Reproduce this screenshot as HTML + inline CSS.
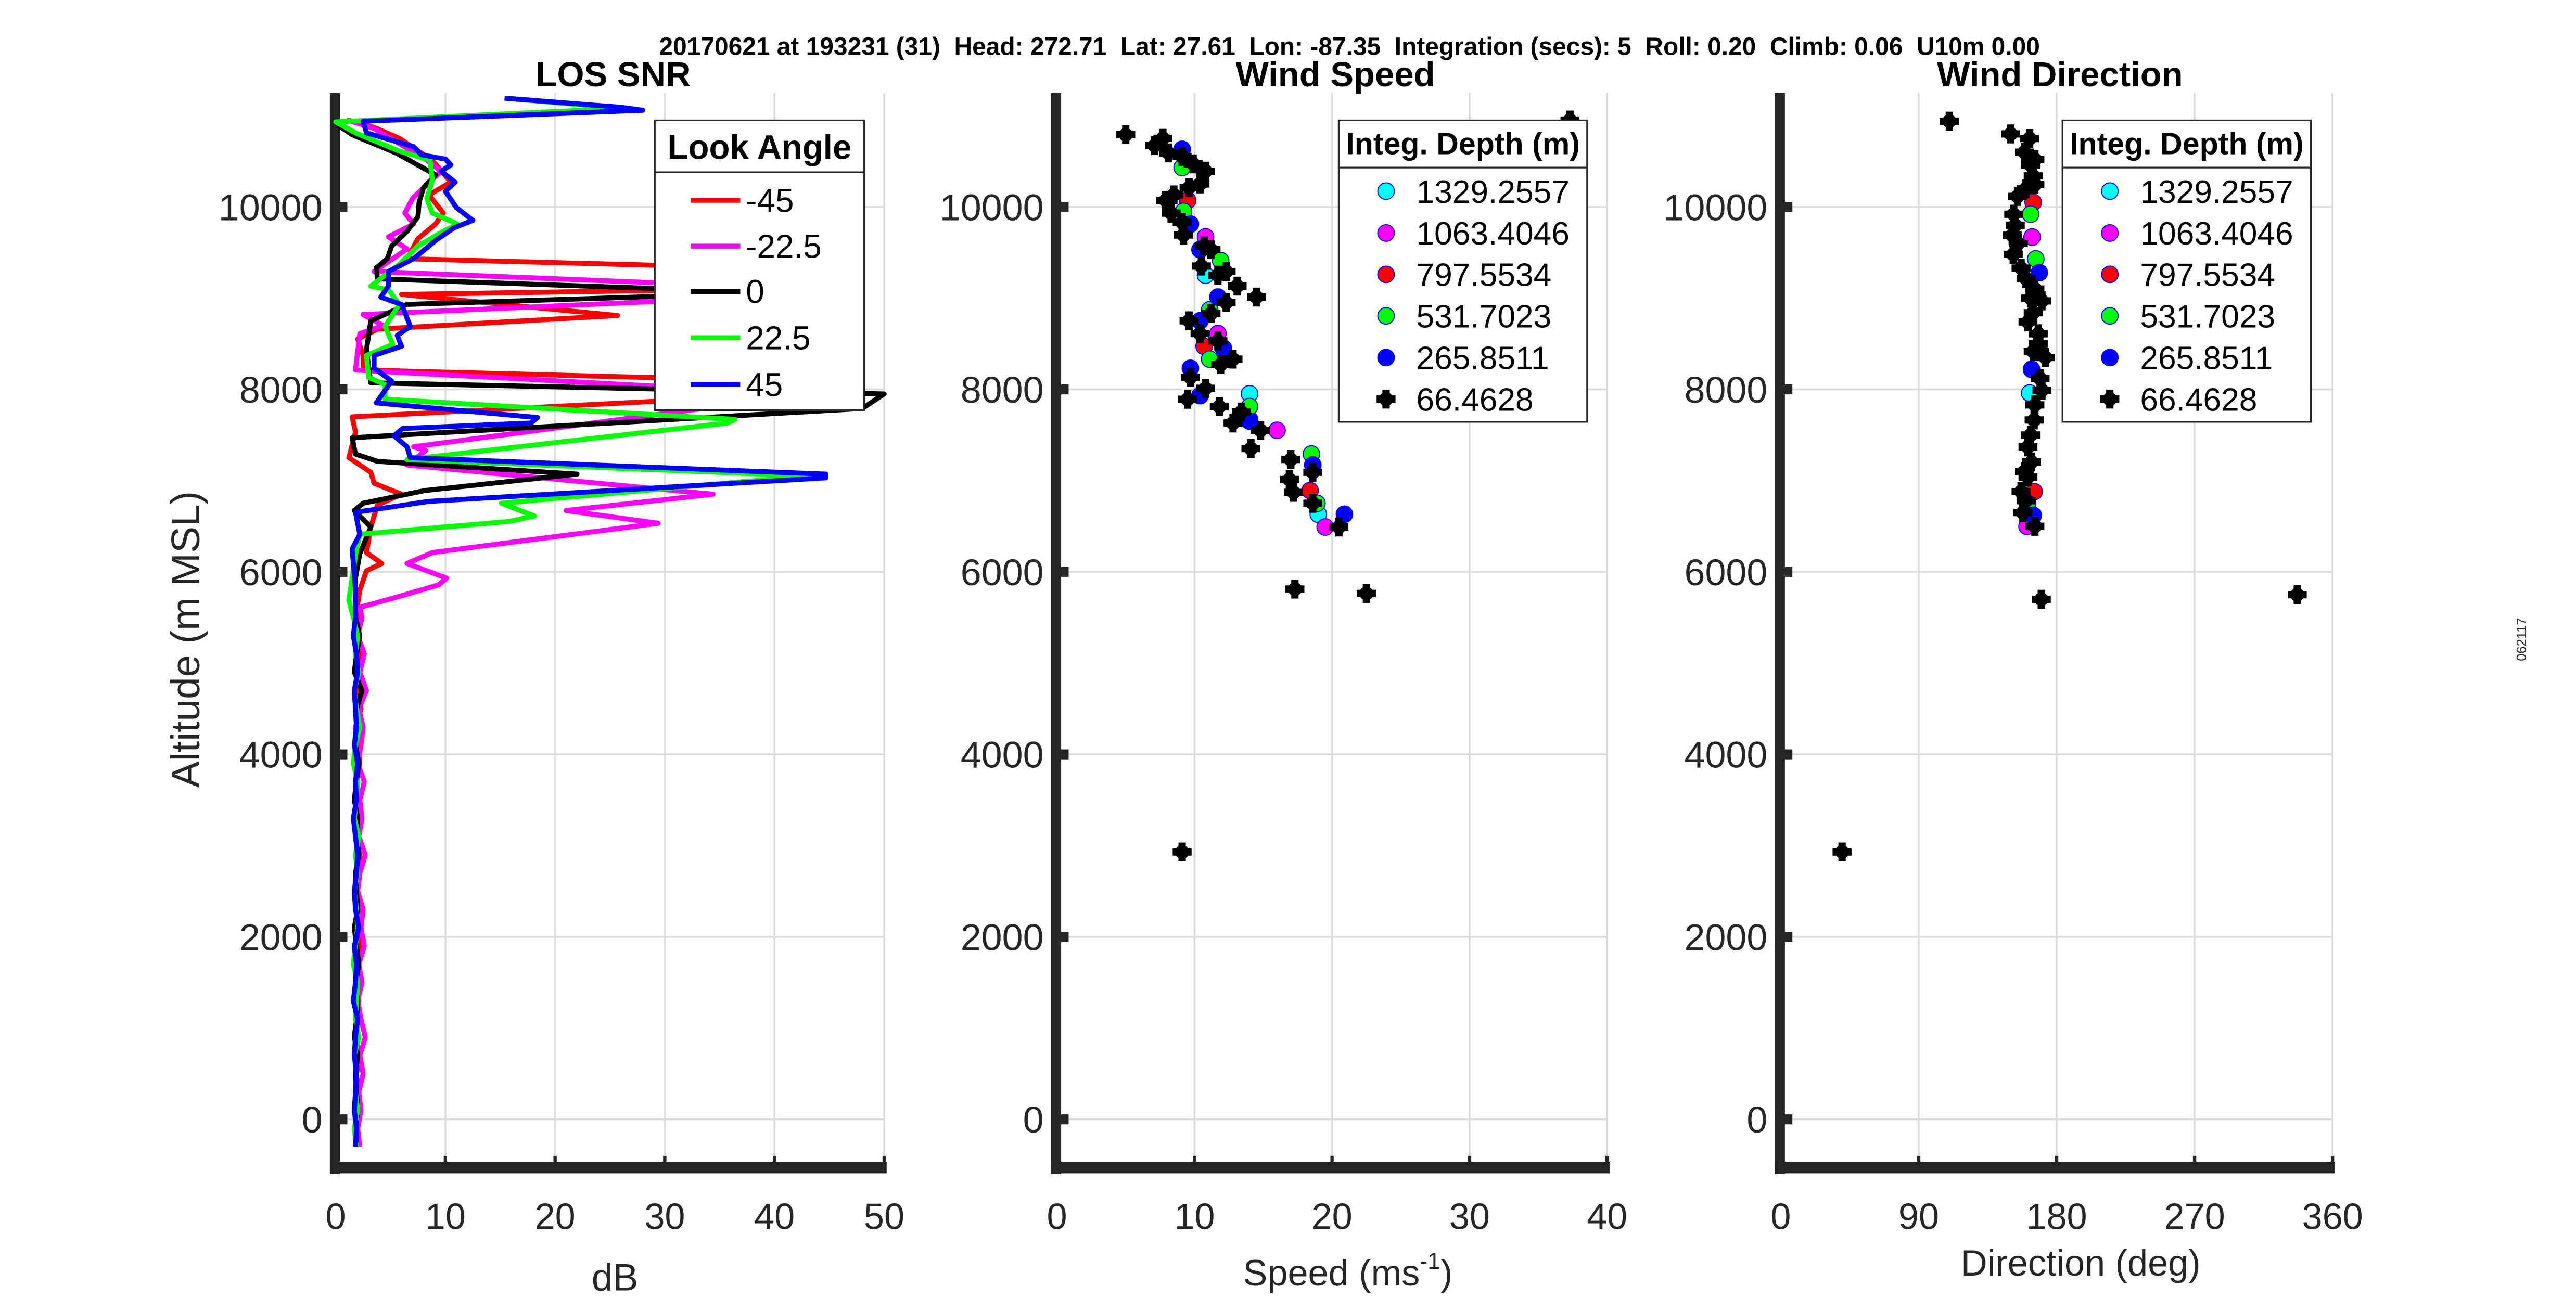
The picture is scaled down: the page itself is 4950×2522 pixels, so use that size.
<!DOCTYPE html>
<html><head><meta charset="utf-8">
<style>
html,body{margin:0;padding:0;background:#fff;}
svg{display:block;}
text{font-family:"Liberation Sans",Arial,sans-serif;fill:#262626;}
</style></head>
<body>
<svg id="fig" width="4950" height="2522" viewBox="0 0 1550 790" preserveAspectRatio="none" xmlns="http://www.w3.org/2000/svg">
<rect x="0" y="0" width="1550" height="790" fill="#fff"/>
<text xml:space="preserve" x="812" y="33" text-anchor="middle" font-size="15" font-weight="bold" fill="#000" style="fill:#000;white-space:pre">20170621 at 193231 (31)  Head: 272.71  Lat: 27.61  Lon: -87.35  Integration (secs): 5  Roll: 0.20  Climb: 0.06  U10m 0.00</text>
<text transform="translate(1520,385) rotate(-90)" text-anchor="middle" font-size="8">062117</text>
<g id="g"></g>
</svg>
<script>
// ---------- Data ----------
const yTicks = [0, 2000, 4000, 6000, 8000, 10000];
const snrTicks = [0, 10, 20, 30, 40, 50];
const speedTicks = [0, 10, 20, 30, 40];
const dirTicks = [0, 90, 180, 270, 360];
const lookAngles = ["-45", "-22.5", "0", "22.5", "45"];
const depthLabels = ["1329.2557", "1063.4046", "797.5534", "531.7023", "265.8511", "66.4628"];

const lowAlt = [5500,5300,5100,4900,4700,4500,4300,4100,3900,3700,3500,3300,3100,2900,2700,2500,2300,2100,1900,1700,1500,1300,1100,900,700,500,300,100,-100,-300];
const lowM45 = [2.0,1.8,2.2,1.9,2.1,2.3,1.8,2.0,2.2,1.9,2.1,1.8,2.0,2.2,1.9,2.0,2.1,1.8,2.2,2.0,1.9,2.1,2.0,1.8,2.2,1.9,2.0,2.1,1.9,2.0];
const lowM22 = [2.4,2.0,2.6,2.2,2.8,2.1,2.5,2.3,2.0,2.6,2.2,2.4,2.1,2.7,2.2,2.0,2.5,2.3,2.6,2.1,2.4,2.0,2.3,2.7,2.2,2.5,2.1,2.3,2.0,2.2];
const low0 = [1.8,2.2,1.9,1.7,2.4,1.9,2.0,1.8,2.1,1.9,1.7,2.0,1.9,2.1,1.8,1.9,2.0,1.7,1.9,2.1,1.8,2.0,1.9,1.7,2.0,1.8,1.9,2.0,1.8,1.9];
const low22 = [1.6,2.0,1.8,2.1,1.7,1.9,2.2,1.8,1.6,2.0,1.9,1.7,2.1,1.8,2.0,1.7,1.9,2.0,1.8,1.6,2.0,1.9,1.8,2.1,1.7,1.9,1.8,2.0,1.7,1.9];
const low45 = [1.8,1.6,1.9,2.0,1.7,1.8,1.9,1.7,2.0,1.8,1.9,1.6,1.8,2.0,1.9,1.7,1.8,2.1,1.7,1.9,1.8,1.6,2.0,1.8,1.7,1.9,1.8,1.7,1.9,1.8];

const altM45 = [10950,10872,10752,10512,10272,10132,9932,9812,9652,9432,9340,9100,9040,8810,8660,8552,8372,8212,8110,7900,7700,7532,7252,7092,6972,6852,6732,6492,6212,6092,6012,5800,5650];
const dbM45  = [1.0,3.5,5.8,8.8,10.5,8.5,9.8,9.1,7.5,6.5,36,38,6,25.7,3.8,2.0,2.5,2.5,35,34,1.5,1.8,1.2,3.2,3.5,6.0,3.8,3.2,2.8,4.2,2.8,2.2,2.0];
const altM22 = [10950,10860,10512,10392,10092,9932,9812,9672,9540,9292,9140,9000,8820,8700,8612,8212,8010,7800,7372,7330,7172,6852,6672,6532,6212,6092,5932,5860,5732,5612];
const dbM22  = [1.2,3.5,8.3,9.6,7.0,6.3,7.1,4.8,6.5,3.5,35,36,2.5,4.3,2.2,1.8,33,34,7.1,8.2,6.5,34.4,21,29.4,8.8,6.5,10.1,9.4,5.8,2.2];
const alt0 = [10912,10792,10592,10472,10352,10212,10052,9892,9732,9572,9432,9332,9212,9090,9040,8932,8752,8432,8072,7950,7790,7470,7292,7212,7072,6892,6752,6672,6492,6200,5932];
const db0  = [0,1.5,5.5,7.3,9.1,8.0,7.6,7.5,6.5,5.1,4.7,3.7,3.8,33,35,6.5,3.2,2.8,3.2,50,48,1.5,1.8,3.8,22,8.1,2.5,1.7,3.2,2.2,1.8];
const alt22 = [11192,11080,10932,10812,10612,10512,10292,10092,9932,9812,9732,9572,9372,9132,9092,8932,8692,8492,8372,8132,8052,7892,7672,7632,7232,7052,6752,6612,6552,6412,6250,5692];
const db22  = [15.4,26,0,1.8,5.8,8.6,8.8,8.3,8.8,11.1,9.8,7.5,5.8,3.2,4.8,5.8,4.5,5.2,2.8,3.0,4.5,4.5,36.4,35.7,6.5,43,15.1,18.1,15.8,2.2,1.9,1.2];
const alt45 = [11192,11092,11060,10940,10812,10660,10572,10524,10460,10392,10272,10172,9992,9852,9772,9632,9432,9292,9132,9012,8932,8692,8592,8472,8372,8232,8092,7852,7692,7632,7572,7492,7372,7252,7072,7032,6772,6652,6412,6252,5812];
const db45  = [15.4,26,28,2.5,2.8,7.1,7.8,10,10.5,9.6,10.9,10,11,12.5,10.8,9.1,7.1,4.8,4.8,4.1,6,6.8,5.6,6,3.5,3.5,5.1,3.7,18.4,17.8,6.1,5.3,6.5,6.8,44.7,44.7,8.5,1.8,2.2,1.5,1.8];

const spdAltK = [10792,10672,10752,10592,10552,10472,10392,10252,10212,10132,10072,9932,9832,9692,9572,9532,9352,9252,9292,9132,9012,8952,8832,8752,8612,8532,8332,8272,8132,7892,8012,7812,7632,7752,7552,7352,7232,7092,7012,6872,6752,6492,5812,5764,10952,2930];
const spdK = [5,7.1,7.7,8.1,9.1,9.9,10.8,10.4,9.6,8.5,7.9,8.3,9.1,9.2,10.7,11.2,10.5,11.7,12.3,13.1,14.5,12.3,11.2,9.6,10.4,11.7,12.8,11.9,9.7,9.5,10.8,11.8,12.8,13.4,14.8,14.1,17,18.6,16.9,17.2,18.6,20.5,17.3,22.5,37.3,9.1];
const spdAltC = [7952,6632,9252];      const spdC = [14,19,10.8];
const spdAltM = [9672,8612,7552,6492]; const spdM = [10.8,11.7,16,19.5];
const spdAltR = [10072,8472,7672,6892]; const spdR = [9.5,10.7,14,18.4];
const spdAltG = [10432,9952,9412,8872,8332,7812,7292,6752]; const spdG = [9.1,9.2,11.9,11.1,11.1,14,18.5,18.9];
const spdAltB = [10632,9812,9532,9012,8752,8452,8232,7932,7652,7172,6632]; const spdB = [9.1,9.7,10.4,11.7,10.4,12.1,9.7,10.4,14,18.6,20.9];

const dirAltK = [10800,10750,10600,10520,10460,10340,10245,10115,9920,9690,9480,9330,9215,9100,8970,8840,8740,8610,8415,8350,8120,7990,7830,7665,7370,7205,7040,6880,6780,6500,10940,5750,2930,5700,10200,9800,9600,9000,8500,7500,7100,6650];
const dirK = [150,162.4,159,165.8,163,164.7,165.8,154.5,152,151,151.7,156.8,160,165.8,170.4,164.7,161.3,168,164.7,172.6,169.2,170.4,165.8,165.3,161.3,163.6,161.3,156.8,160,165.8,110,337,40,170,160,153,155,163,168,163,159,158];
const dirAltC = [7960]; const dirC = [162.4];
const dirAltM = [9670,6500]; const dirM = [164,160.7];
const dirAltR = [10050,6880]; const dirR = [164.7,165.3];
const dirAltG = [9920,9430,6750]; const dirG = [163,166.4,161];
const dirAltB = [9280,8220,6620]; const dirB = [168.7,163.6,164.7];

// ---------- Layout ----------
const NS = "http://www.w3.org/2000/svg";
const G = document.getElementById("g");
const yTop = 56, yBot = 702;
function Y(a){ return 674 - a*0.05494; }
const P1 = {x0:202, x1:532, vmax:50};
const P2 = {x0:636, x1:967, vmax:40};
const P3 = {x0:1071.5, x1:1403.5, vmax:360};
function X(p,v){ return p.x0 + (p.x1-p.x0)*v/p.vmax; }
function mk(tag, attrs, parent){
  const e = document.createElementNS(NS, tag);
  for (const k in attrs) e.setAttribute(k, attrs[k]);
  (parent||G).appendChild(e);
  return e;
}
function txt(s, attrs, parent){ const t = mk("text", attrs, parent); t.textContent = s; return t; }

function axes(p, ticks, tickLabels, name, title){
  const grp = mk("g", {});
  
  
  ticks.forEach(function(t){
    if (t===0) return;
    const l = mk("line", {x1:X(p,t), x2:X(p,t), y1:yTop, y2:yBot-4, stroke:"#dcdcdc", "stroke-width":1.1}, grp);
    
    
  });
  yTicks.forEach(function(a){
    const l = mk("line", {x1:p.x0, x2:p.x1, y1:Y(a), y2:Y(a), stroke:"#dcdcdc", "stroke-width":1.1}, grp);
    
    
  });
  const sp = mk("rect", {x:p.x0-3.5, y:yTop, width:6, height:yBot+5-yTop, fill:"#262626"}, grp);
  
  
  const bx = mk("rect", {x:p.x0-3.5, y:699.5, width:p.x1-p.x0+5, height:7, fill:"#262626"}, grp);
  
  
  ticks.forEach(function(t, i){
    const tk = mk("rect", {x:X(p,t)-1, y:696, width:2, height:4, fill:"#262626"}, grp);
    
    
    const lb = txt(tickLabels[i], {x:X(p,t), y:740, "text-anchor":"middle", "font-size":22}, grp);
    
    
  });
  yTicks.forEach(function(a){
    const tk = mk("rect", {x:p.x0, y:Y(a)-3, width:7, height:6, fill:"#262626"}, grp);
    
    
    const lb = txt(String(a), {x:p.x0-8, y:Y(a)+8, "text-anchor":"end", "font-size":22.5}, grp);
    
    
  });
  const tt = txt(title, {x:(p.x0+p.x1)/2+2, y:52, "text-anchor":"middle", "font-size":21, "font-weight":"bold", style:"fill:#000"}, grp);
  
  
  return grp;
}

axes(P1, snrTicks, snrTicks.map(String), "snr", "LOS SNR");
axes(P2, speedTicks, speedTicks.map(String), "speed", "Wind Speed");
axes(P3, dirTicks, dirTicks.map(String), "direction", "Wind Direction");

let t;
t = txt("dB", {x:370, y:777, "text-anchor":"middle", "font-size":23});


t = txt("", {x:811, y:774, "text-anchor":"middle", "font-size":22});
t.innerHTML = 'Speed (ms<tspan dy="-10" font-size="14">-1</tspan><tspan dy="10">)</tspan>';


t = txt("Direction (deg)", {x:1252, y:768, "text-anchor":"middle", "font-size":22});


t = txt("Altitude (m MSL)", {transform:"translate(120,385) rotate(-90)", "text-anchor":"middle", "font-size":24});



// ---------- SNR lines ----------
mk("clipPath", {id:"c1"}).appendChild(document.createElementNS(NS,"rect"));
const cr = document.querySelector("#c1 rect");
cr.setAttribute("x", 198); cr.setAttribute("y", 50); cr.setAttribute("width", 340); cr.setAttribute("height", 652);
const snrSeries = [
  {alt:altM45, db:dbM45, low:lowM45, c:"#ff0000", n:"line-minus45"},
  {alt:altM22, db:dbM22, low:lowM22, c:"#ff00ff", n:"line-minus22-5"},
  {alt:alt0,   db:db0,   low:low0,   c:"#000000", n:"line-0"},
  {alt:alt22,  db:db22,  low:low22,  c:"#00ff00", n:"line-22-5"},
  {alt:alt45,  db:db45,  low:low45,  c:"#0000ff", n:"line-45"}
];
snrSeries.forEach(function(s){
  const A = s.alt.concat(lowAlt), D = s.db.concat(s.low);
  const pts = A.map(function(a,i){ return X(P1,D[i]).toFixed(1)+","+Y(a).toFixed(1); }).join(" ");
  const pl = mk("polyline", {points:pts, fill:"none", stroke:s.c, "stroke-width":3, "stroke-linejoin":"round", "clip-path":"url(#c1)"});
  
  
});

// ---------- markers ----------
function circ(p, v, a, fill, name){
  const c = mk("circle", {cx:X(p,v), cy:Y(a), r:5, fill:fill, stroke:"#0000ff", "stroke-width":0.6});
  
  
}
function blob(cx, cy, name){
  const g = mk("g", {});
  
  
  mk("circle", {cx:cx, cy:cy, r:4.2, fill:"#000"}, g);
  mk("rect", {x:cx-5.7, y:cy-2.2, width:11.4, height:4.4, fill:"#000"}, g);
  mk("rect", {x:cx-2.2, y:cy-5.7, width:4.4, height:11.4, fill:"#000"}, g);
}
function cset(p, alts, vals, fill, name){ alts.forEach(function(a,i){ circ(p, vals[i], a, fill, name); }); }
cset(P2, spdAltC, spdC, "#00ffff", "speed-point-1329");
cset(P2, spdAltM, spdM, "#ff00ff", "speed-point-1063");
cset(P2, spdAltR, spdR, "#ff0000", "speed-point-797");
cset(P2, spdAltG, spdG, "#00ff00", "speed-point-531");
cset(P2, spdAltB, spdB, "#0000ff", "speed-point-265");
spdAltK.forEach(function(a,i){ blob(X(P2,spdK[i]), Y(a), "speed-point-66"); });
cset(P3, dirAltC, dirC, "#00ffff", "direction-point-1329");
cset(P3, dirAltM, dirM, "#ff00ff", "direction-point-1063");
cset(P3, dirAltR, dirR, "#ff0000", "direction-point-797");
cset(P3, dirAltG, dirG, "#00ff00", "direction-point-531");
cset(P3, dirAltB, dirB, "#0000ff", "direction-point-265");
dirAltK.forEach(function(a,i){ blob(X(P3,dirK[i]), Y(a), "direction-point-66"); });

// ---------- legends ----------
function legendBox(x, y, w, h, divY, title, fs, name){
  const g = mk("g", {});
  
  
  mk("rect", {x:x, y:y, width:w, height:h, fill:"#fff", stroke:"#262626", "stroke-width":1}, g);
  mk("line", {x1:x, x2:x+w, y1:divY, y2:divY, stroke:"#262626", "stroke-width":1}, g);
  const tt = txt(title, {x:x+w/2, y:divY-8, "text-anchor":"middle", "font-size":fs, "font-weight":"bold", style:"fill:#000"}, g);
  
  
  return g;
}
const lg1 = legendBox(394, 72.5, 126, 174.5, 103.7, "Look Angle", 20.5, "look-angle-legend");
const legY1 = [120.6, 148.2, 175.5, 203.4, 231.5];
lookAngles.forEach(function(s,i){
  const e = mk("g", {}, lg1);
  
  
  mk("line", {x1:415.6, x2:445.4, y1:legY1[i], y2:legY1[i], stroke:snrSeries[i].c, "stroke-width":3}, e);
  txt(s, {x:448.8, y:legY1[i]+7, "font-size":20, style:"fill:#000"}, e);
});
const depthColors = ["#00ffff","#ff00ff","#ff0000","#00ff00","#0000ff","#000"];
const legY2 = [115.1, 140.3, 165.2, 190.2, 215.3, 240.3];
[[805.5, P2, "speed-legend"], [1241, P3, "direction-legend"]].forEach(function(L){
  const x = L[0];
  const lg = legendBox(x, 72.5, 149.5, 181.5, 100.9, "Integ. Depth (m)", 18.5, L[2]);
  depthLabels.forEach(function(s,i){
    const e = mk("g", {}, lg);
    
    
    const cx = x + 28.5;
    if (i < 5) {
      mk("circle", {cx:cx, cy:legY2[i], r:5, fill:depthColors[i], stroke:"#0000ff", "stroke-width":0.6}, e);
    } else {
      mk("circle", {cx:cx, cy:legY2[i], r:4.2, fill:"#000"}, e);
      mk("rect", {x:cx-5.7, y:legY2[i]-2.2, width:11.4, height:4.4, fill:"#000"}, e);
      mk("rect", {x:cx-2.2, y:legY2[i]-5.7, width:4.4, height:11.4, fill:"#000"}, e);
    }
    txt(s, {x:x + 46.7, y:legY2[i]+7, "font-size":19.5, style:"fill:#000"}, e);
  });
});
</script>
</body></html>
